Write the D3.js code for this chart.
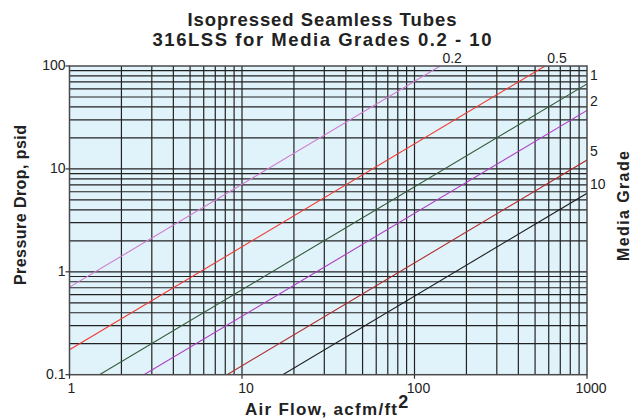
<!DOCTYPE html>
<html>
<head>
    <meta charset="utf-8">
    <title>Isopressed Seamless Tubes</title>
    <script src="https://d3js.org/d3.v7.min.js"></script>
    <style>
        body { margin: 0; background: #fff; }
        text { font-family: "Liberation Sans", Arial, sans-serif; fill: #222; }
        .title { font-size: 18.5px; font-weight: bold; text-anchor: middle; }
        .axis-title { font-size: 16px; font-weight: bold; }
        .tick-label { font-size: 14px; }
        .grade-label { font-size: 14px; }
        .grid line { stroke: #222; stroke-width: 1.2; }
    </style>
</head>
<body>
    <div id="chart"></div>
    <script>
        // media grades and pressure drop (psid) read at 1 and 1000 acfm/ft2
        const grades = ["0.2", "0.5", "1", "2", "5", "10"];
        const flows = [1, 1000];
        const dropAt1 = [0.71, 0.175, 0.067, 0.037, 0.0122, 0.0058];
        const dropAt1000 = [710, 175, 67, 37, 12.2, 5.8];
        const gradeColors = ["#d07ad0", "#f03a32", "#2f5a38", "#b03cc4", "#b02c2c", "#1e1e1e"];

        const xTicks = [1, 10, 100, 1000];
        const yTicks = [0.1, 1, 10, 100];
        const xTickLabels = ["1", "10", "100", "1000"];
        const yTickLabels = ["0.1", "1", "10", "100"];

        const W = 631, H = 419;
        const pl = 69.5, pr = 587, pt = 66, pb = 374.7;

        const x = d3.scaleLog().domain([1, 1000]).range([pl, pr]);
        const y = d3.scaleLog().domain([0.1, 100]).range([pb, pt]);

        const svg = d3.select("#chart").append("svg")
            .attr("width", W)
            .attr("height", H);

        svg.append("text").attr("class", "title").attr("x", 322).attr("y", 26)
            .attr("textLength", 269).attr("lengthAdjust", "spacing")
            .text("Isopressed Seamless Tubes");
        svg.append("text").attr("class", "title").attr("x", 322).attr("y", 46)
            .attr("textLength", 339).attr("lengthAdjust", "spacing")
            .text("316LSS for Media Grades 0.2 - 10");

        svg.append("defs").append("clipPath").attr("id", "plot-clip")
            .append("rect")
            .attr("x", pl).attr("y", pt)
            .attr("width", pr - pl).attr("height", pb - pt);

        svg.append("rect")
            .attr("x", pl).attr("y", pt)
            .attr("width", pr - pl).attr("height", pb - pt)
            .attr("fill", "#e1f3fa");

        // log grid: every 1..9 within each decade
        const xGrid = x.ticks().filter(v => v > 1 && v < 1000);
        const yGrid = y.ticks().filter(v => v > 0.1 && v < 100);

        const grid = svg.append("g").attr("class", "grid");
        grid.selectAll(".vx").data(xGrid).enter().append("line")
            .attr("x1", d => x(d)).attr("x2", d => x(d))
            .attr("y1", pt).attr("y2", pb);
        grid.selectAll(".hy").data(yGrid).enter().append("line")
            .attr("y1", d => y(d)).attr("y2", d => y(d))
            .attr("x1", pl).attr("x2", pr);

        // grade lines
        const line = d3.line().x(d => x(d[0])).y(d => y(d[1]));
        svg.append("g").attr("clip-path", "url(#plot-clip)")
            .selectAll("path")
            .data(grades.map((g, i) => [[flows[0], dropAt1[i]], [flows[1], dropAt1000[i]]]))
            .enter().append("path")
            .attr("d", line)
            .attr("fill", "none")
            .attr("stroke", (d, i) => gradeColors[i])
            .attr("stroke-width", 1.1);

        // frame
        svg.append("rect")
            .attr("x", pl).attr("y", pt)
            .attr("width", pr - pl).attr("height", pb - pt)
            .attr("fill", "none")
            .attr("stroke", "#4a4a4a")
            .attr("stroke-width", 1.5);

        // small ticks and labels
        svg.append("g").selectAll("line").data(xTicks).enter().append("line")
            .attr("x1", d => x(d)).attr("x2", d => x(d))
            .attr("y1", pb).attr("y2", pb + 4)
            .attr("stroke", "#333").attr("stroke-width", 1.2);
        svg.append("g").selectAll("text").data(xTicks).enter().append("text")
            .attr("class", "tick-label")
            .attr("x", (d, i) => x(d) + (i === 0 ? 2 : 4))
            .attr("y", 393)
            .attr("text-anchor", "middle")
            .text((d, i) => xTickLabels[i]);

        svg.append("g").selectAll("line").data(yTicks).enter().append("line")
            .attr("x1", pl - 4).attr("x2", pl)
            .attr("y1", d => y(d)).attr("y2", d => y(d))
            .attr("stroke", "#333").attr("stroke-width", 1.2);
        svg.append("g").selectAll("text").data(yTicks).enter().append("text")
            .attr("class", "tick-label")
            .attr("x", pl - 4)
            .attr("y", d => y(d) + 4)
            .attr("text-anchor", "end")
            .text((d, i) => yTickLabels[i]);

        // grade labels, placed where each line leaves the plot
        const gl = svg.append("g");
        grades.forEach((g, i) => {
            const k = dropAt1[i];
            if (dropAt1000[i] > 100) {
                gl.append("text").attr("class", "grade-label")
                    .attr("x", x(100 / k) + 12).attr("y", pt - 3)
                    .attr("text-anchor", "middle").text(g);
            } else {
                gl.append("text").attr("class", "grade-label")
                    .attr("x", pr + 3).attr("y", y(dropAt1000[i]) - 4)
                    .attr("text-anchor", "start").text(g);
            }
        });

        // axis titles
        svg.append("text").attr("class", "axis-title")
            .attr("text-anchor", "middle")
            .attr("transform", "translate(26,205) rotate(-90)")
            .attr("textLength", 160).attr("lengthAdjust", "spacing")
            .text("Pressure Drop, psid");
        svg.append("text").attr("class", "axis-title")
            .attr("text-anchor", "middle")
            .attr("transform", "translate(629,206) rotate(-90)")
            .attr("textLength", 110).attr("lengthAdjust", "spacing")
            .text("Media Grade");
        const xt = svg.append("text").attr("class", "axis-title")
            .attr("x", 245).attr("y", 415)
            .attr("text-anchor", "start")
            .style("font-size", "17px");
        xt.append("tspan").attr("textLength", 152).attr("lengthAdjust", "spacing")
            .text("Air Flow, acfm/ft");
        xt.append("tspan").attr("dy", -7).style("font-size", "18px").text("2");
    </script>
</body>
</html>
